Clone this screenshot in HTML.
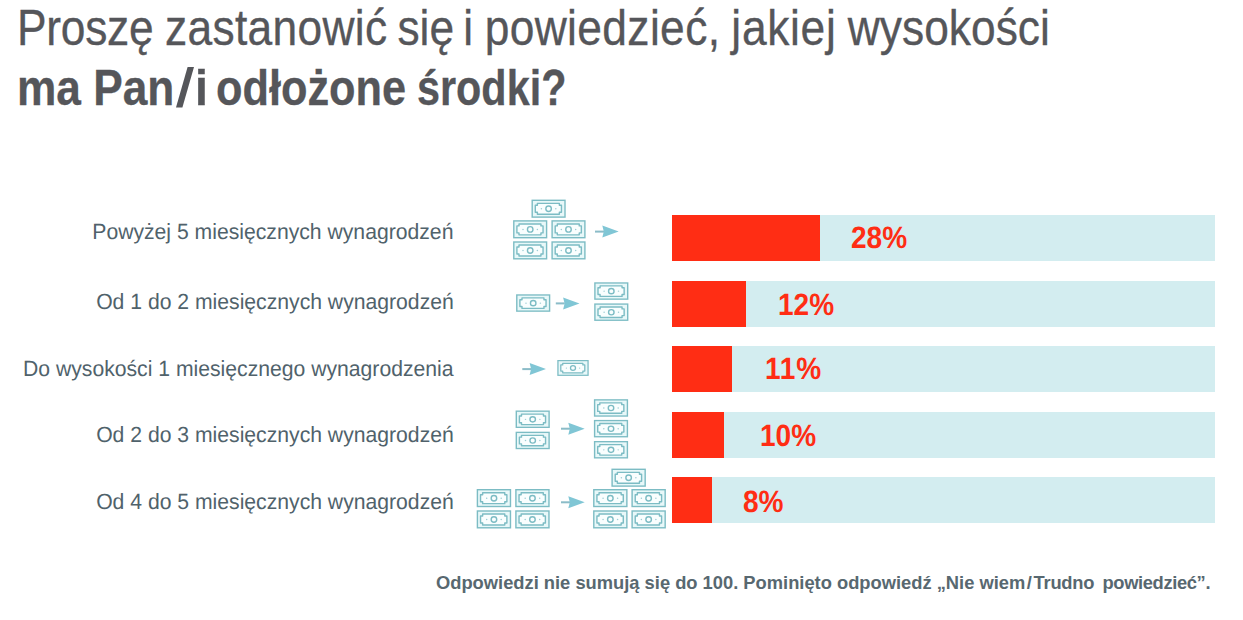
<!DOCTYPE html>
<html lang="pl">
<head>
<meta charset="utf-8">
<title>Wykres</title>
<style>
html,body{margin:0;padding:0;background:#fff;}
body{width:1243px;height:620px;position:relative;overflow:hidden;font-family:"Liberation Sans",sans-serif;}
.t{position:absolute;white-space:nowrap;line-height:1;}
.h1{left:17.1px;top:2.8px;font-size:50px;color:#55565a;-webkit-text-stroke:.35px #55565a;transform-origin:0 0;transform:scaleX(.887);}
.h2{left:17.3px;top:63px;font-size:50px;font-weight:bold;color:#55565a;-webkit-text-stroke:.3px #55565a;transform-origin:0 0;transform:scaleX(.8666);}
.lab{right:789.7px;font-size:22px;color:#50626b;text-rendering:geometricPrecision;transform-origin:100% 0;transform:scaleX(.962);}
.bar{position:absolute;left:672px;width:543px;height:46.3px;background:#d3edf0;}
.bar i{position:absolute;left:0;top:0;height:100%;background:#ff2d14;display:block;}
.pct{font-size:30.8px;font-weight:bold;color:#ff2d14;transform-origin:0 0;transform:scaleX(.91);text-rendering:geometricPrecision;}
.foot{left:435.5px;top:574.8px;font-size:17.8px;font-weight:bold;color:#586870;transform-origin:0 0;transform:scaleX(1.03);}
svg{position:absolute;left:0;top:0;}
.r{position:relative;}
</style>
</head>
<body>
<div class="t h1" id="h1"><span style="letter-spacing:-.32px">Proszę</span> <span class="r" style="left:-.8px;letter-spacing:.35px">zastanowić</span> <span class="r" style="left:-3.5px">się</span> <span class="r" style="left:-7.2px">i</span> <span class="r" style="left:-8px;letter-spacing:.41px">powiedzieć,</span> <span class="r" style="left:-9.5px;letter-spacing:.75px">jakiej</span> <span class="r" style="left:-10.6px">wysokości</span></div>
<div class="t h2" style="left:16.55px;transform:scaleX(.8843)">ma Pan</div>
<div class="t h2" style="left:194.7px;transform:scaleX(.93)">i</div>
<div class="t h2" style="left:215.67px;transform:scaleX(.8667)">odłożone</div>
<div class="t h2" style="left:416.5px;transform:scaleX(.8273)">środki?</div>

<div class="t lab" id="l1" style="top:221.2px">Powyżej 5 miesięcznych wynagrodzeń</div>
<div class="t lab" id="l2" style="top:291.2px">Od 1 do 2 miesięcznych wynagrodzeń</div>
<div class="t lab" id="l3" style="top:358.1px">Do wysokości 1 miesięcznego wynagrodzenia</div>
<div class="t lab" id="l4" style="top:423.5px">Od 2 do 3 miesięcznych wynagrodzeń</div>
<div class="t lab" id="l5" style="top:491.2px">Od 4 do 5 miesięcznych wynagrodzeń</div>

<div class="bar" style="top:215px"><i style="width:147.7px"></i></div>
<div class="bar" style="top:280.8px"><i style="width:74.3px"></i></div>
<div class="bar" style="top:346.1px"><i style="width:60px"></i></div>
<div class="bar" style="top:411.5px"><i style="width:52px"></i></div>
<div class="bar" style="top:477px"><i style="width:40px"></i></div>

<div class="t pct" id="p1" style="left:851px;top:223.15px">28%</div>
<div class="t pct" id="p2" style="left:777.7px;top:290.15px">12%</div>
<div class="t pct" id="p3" style="left:765px;top:353.95px;letter-spacing:.9px">11%</div>
<div class="t pct" id="p4" style="left:759.6px;top:420.95px">10%</div>
<div class="t pct" id="p5" style="left:742.8px;top:487.15px">8%</div>

<svg width="1243" height="620" viewBox="0 0 1243 620">
<defs>
<g id="n" fill="none" stroke="#7cbcc4" stroke-width="1.4" stroke-linejoin="round">
<rect x=".7" y=".7" width="32.8" height="16.8" stroke-linejoin="miter" fill="#e8f8f9"/>
<path d="M5.9 3.75H27.85V5.7H29.95V12.7H27.85V14.65H5.9V12.7H3.8V5.7H5.9Z" fill="#f9fefe"/>
<circle cx="17.1" cy="9.2" r="2.75"/>
<circle cx="9.9" cy="9.2" r=".75" fill="#9ccdd4" stroke="none"/>
<circle cx="24.3" cy="9.2" r=".75" fill="#9ccdd4" stroke="none"/>
</g>
<g id="ar">
<rect x="0" y="-1" width="9" height="2" fill="#8bbcc8"/>
<path d="M7.3 -6 L23.7 0 L7.3 6 L8.8 0 Z" fill="#80c6d5"/>
</g>
</defs>
<path d="M176 107.6H182.4L194 67.1H187.6Z" fill="#55565a"/>
<use href="#n" transform="translate(531.5 199.6) scale(1.0 1.0)"/>
<use href="#n" transform="translate(513.1 220.2) scale(1.0 1.0)"/>
<use href="#n" transform="translate(551.4 220.2) scale(1.0 1.0)"/>
<use href="#n" transform="translate(513.1 241.3) scale(1.0 1.0)"/>
<use href="#n" transform="translate(551.4 241.3) scale(1.0 1.0)"/>
<use href="#n" transform="translate(516.1 294.3) scale(1.0 0.962)"/>
<use href="#n" transform="translate(594.2 282.3) scale(1.0 0.962)"/>
<use href="#n" transform="translate(594.2 303.4) scale(1.0 0.962)"/>
<use href="#n" transform="translate(557.3 360.0) scale(0.918 0.874)"/>
<use href="#n" transform="translate(515.6 410.5) scale(1.0 0.962)"/>
<use href="#n" transform="translate(515.6 431.7) scale(1.0 0.962)"/>
<use href="#n" transform="translate(593.9 399.2) scale(1.0 0.962)"/>
<use href="#n" transform="translate(593.9 419.9) scale(1.0 0.962)"/>
<use href="#n" transform="translate(593.9 441.0) scale(1.0 0.962)"/>
<use href="#n" transform="translate(476.7 489.0) scale(1.008 1.0)"/>
<use href="#n" transform="translate(515.2 489.0) scale(1.008 1.0)"/>
<use href="#n" transform="translate(476.7 510.3) scale(1.008 1.0)"/>
<use href="#n" transform="translate(515.2 510.3) scale(1.008 1.0)"/>
<use href="#n" transform="translate(611.4 468.6) scale(1.008 1.0)"/>
<use href="#n" transform="translate(593.1 489.0) scale(1.008 1.0)"/>
<use href="#n" transform="translate(631.4 489.0) scale(1.008 1.0)"/>
<use href="#n" transform="translate(593.1 510.3) scale(1.008 1.0)"/>
<use href="#n" transform="translate(631.4 510.3) scale(1.008 1.0)"/>
<use href="#ar" x="595" y="231.6"/>
<use href="#ar" x="555.8" y="303.4"/>
<use href="#ar" x="522.3" y="369.1"/>
<use href="#ar" x="561" y="428.7"/>
<use href="#ar" x="561" y="502.3"/>
</svg>
<div class="t foot" id="ft">Odpowiedzi nie sumują się do 100. Pominięto odpowiedź „Nie wiem<span style="margin:0 1.6px">/</span><span style="letter-spacing:-.25px">Trudno</span> <span style="margin-left:3.2px;letter-spacing:-.35px">powiedzieć”.</span></div>
</body>
</html>
